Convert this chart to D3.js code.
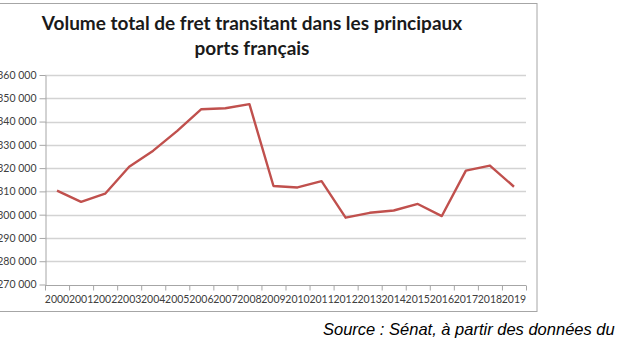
<!DOCTYPE html>
<html>
<head>
<meta charset="utf-8">
<script src="https://cdn.jsdelivr.net/npm/d3@7"></script>
<style>
  body { margin: 0; background: #fff; }
  svg { display: block; }
</style>
</head>
<body>
<div id="chart"></div>
<script>
// years on the x axis
var years = ['2000', '2001', '2002', '2003', '2004', '2005', '2006', '2007', '2008', '2009',
             '2010', '2011', '2012', '2013', '2014', '2015', '2016', '2017', '2018', '2019'];
// total freight volume
var volumes = [310300, 305500, 309000, 320600, 327500, 336000, 345300, 345700, 347500, 312300,
               311700, 314400, 298700, 300800, 301800, 304600, 299400, 318900, 321100, 312000];
var yTicks = [270000, 280000, 290000, 300000, 310000, 320000, 330000, 340000, 350000, 360000];
var titleLines = ['Volume total de fret transitant dans les principaux', 'ports français'];
var sourceText = 'Source : Sénat, à partir des données du';

var totalWidth = 627, totalHeight = 353;
var plot = { left: 45, right: 526, top: 75, bottom: 284.5 };

var svg = d3.select('#chart').append('svg')
    .attr('width', totalWidth)
    .attr('height', totalHeight);

// chart frame
svg.append('rect')
    .attr('x', -2).attr('y', 3.5)
    .attr('width', 539).attr('height', 308)
    .attr('fill', 'none')
    .attr('stroke', '#a6a6a6')
    .attr('stroke-width', 1);

// title
svg.append('g').selectAll('text')
    .data(titleLines)
    .enter()
    .append('text')
    .attr('x', 252)
    .attr('y', (d, i) => 30 + i * 25)
    .attr('text-anchor', 'middle')
    .attr('font-family', 'Lato, sans-serif')
    .attr('font-weight', 'bold')
    .attr('font-size', 19)
    .attr('fill', '#1a1a1a')
    .text(d => d);

var xScale = d3.scaleBand()
    .domain(years)
    .range([plot.left, plot.right])
    .padding(0);

var yScale = d3.scaleLinear()
    .domain([270000, 360000])
    .range([plot.bottom, plot.top]);

var fmt = d => d3.format(',')(d).replace(/,/g, ' ');

// gridlines
svg.append('g').selectAll('line')
    .data(yTicks.slice(1))
    .enter()
    .append('line')
    .attr('x1', plot.left).attr('x2', plot.right)
    .attr('y1', d => Math.round(yScale(d)) + 0.5)
    .attr('y2', d => Math.round(yScale(d)) + 0.5)
    .attr('stroke', '#d3d3d3')
    .attr('stroke-width', 1.3);

// y axis
var yAxis = d3.axisLeft(yScale).tickValues(yTicks).tickFormat(fmt)
    .tickSizeInner(6).tickSizeOuter(0).tickPadding(3);
var yAxisGroup = svg.append('g')
    .attr('transform', 'translate(' + (plot.left + 0.5) + ',0)')
    .call(yAxis);
yAxisGroup.selectAll('path').attr('stroke', '#a6a6a6');
yAxisGroup.selectAll('line').attr('stroke', '#a6a6a6');
yAxisGroup.selectAll('text')
    .attr('fill', '#404040')
    .attr('font-size', 10.5)
    .attr('font-family', 'Lato, sans-serif');

// x axis: ticks sit between categories
var xAxisGroup = svg.append('g')
    .attr('transform', 'translate(0,' + (Math.round(plot.bottom) + 0.5) + ')');
xAxisGroup.append('line')
    .attr('x1', plot.left).attr('x2', plot.right)
    .attr('stroke', '#a6a6a6');
xAxisGroup.selectAll('.tick')
    .data(years.concat(['end']))
    .enter()
    .append('line')
    .attr('x1', (d, i) => plot.left + i * xScale.step() + 0.5)
    .attr('x2', (d, i) => plot.left + i * xScale.step() + 0.5)
    .attr('y1', 0).attr('y2', 5)
    .attr('stroke', '#a6a6a6');
xAxisGroup.selectAll('text')
    .data(years)
    .enter()
    .append('text')
    .attr('x', d => xScale(d) + xScale.bandwidth() / 2)
    .attr('y', 17)
    .attr('text-anchor', 'middle')
    .attr('fill', '#404040')
    .attr('font-size', 10.5)
    .attr('font-family', 'Lato, sans-serif')
    .text(d => d);

// the series
var line = d3.line()
    .x((d, i) => xScale(years[i]) + xScale.bandwidth() / 2)
    .y(d => yScale(d));

svg.append('path')
    .datum(volumes)
    .attr('d', line)
    .attr('fill', 'none')
    .attr('stroke', '#c0504d')
    .attr('stroke-width', 2.4)
    .attr('stroke-linejoin', 'round');

// source note
svg.append('text')
    .attr('x', 323)
    .attr('y', 335)
    .attr('font-family', '"Liberation Sans", Arial, sans-serif')
    .attr('font-style', 'italic')
    .attr('font-size', 16.5)
    .attr('fill', '#000')
    .text(sourceText);
</script>
</body>
</html>
